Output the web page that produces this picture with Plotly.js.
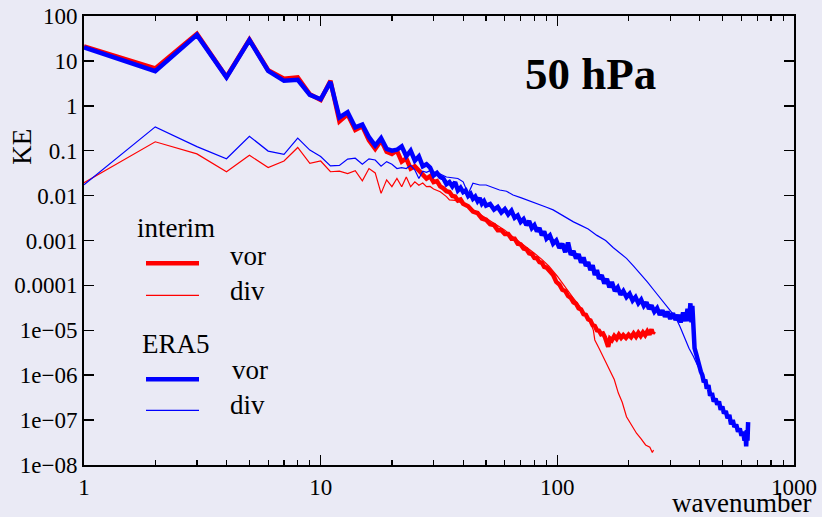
<!DOCTYPE html>
<html>
<head>
<meta charset="utf-8">
<script src="https://cdn.plot.ly/plotly-3.0.1.min.js"></script>
<style>html,body{margin:0;padding:0;background:#eaeaf5;}#chart{width:822px;height:517px;}</style>
</head>
<body>
<div id="chart"></div>
<script>
// ---------- data ----------
const wnInterimVor = [1,2,3,4,5,6,7,8,9,10,11,12,13,14,15,16,17,18,19,20,21,22,23,24,25,26,27,28,29,30,31,32,33,34,35,36,37,38,39,40,
  42,44,46,48,50,52,54,56,58,60,62,64,66,68,70,72,74,76,78,80,82,84,86,88,90,93,96,99,102,105,108,111,114,117,120,123,126,129,132,135,138,141,144,147,150,153,156,159,162,164,167,170,174,178,182,186,190,195,200,205,210,215,220,225,230,235,240,245,250,253,256];
const keInterimVor = [21,6.8,40,4.4,30,6.2,4.0,4.3,1.8,1.35,3.6,0.45,0.65,0.29,0.35,0.17,0.11,0.17,0.095,0.085,0.1,0.057,0.067,0.04,0.045,0.037,0.03,0.024,0.027,0.02,0.021,0.016,0.0145,0.0125,0.012,0.0098,0.0095,0.0078,0.0082,0.0066,
  0.0058,0.0044,0.0041,0.0031,0.0029,0.0023,0.0022,0.0017,0.0017,0.0014,0.0014,0.0011,0.0011,0.00085,0.00082,0.00066,0.00064,0.00052,0.0005,0.00041,0.0004,0.00033,0.00032,0.00026,0.00025,0.0002,0.00017,0.00012,0.000105,8e-5,7.5e-5,5.8e-5,5.3e-5,4.2e-5,3.9e-5,3.1e-5,2.9e-5,2.3e-5,2.2e-5,1.75e-5,1.65e-5,1.3e-5,1.25e-5,1.0e-5,9.8e-6,8.2e-6,8.5e-6,7e-6,5e-6,4.3e-6,6.5e-6,6e-6,7.5e-6,6.5e-6,8e-6,6.8e-6,7.8e-6,6.8e-6,8e-6,7e-6,8.5e-6,7.2e-6,8.8e-6,7.5e-6,9e-6,7.8e-6,9.5e-6,8e-6,1.05e-5,8.5e-6,9.5e-6];

const wnInterimDiv = [1,2,3,4,5,6,7,8,9,10,11,12,13,14,15,16,17,18,19,20,21,22,23,24,25,26,27,28,29,30,32,34,35,37,39,42,45,48,52,56,60,65,70,75,80,86,92,100,108,116,124,132,138,142,144,150,156,162,167,174,181,188,196,205,216,226,236,246,252,255];
const keInterimDiv = [0.0194,0.158,0.085,0.034,0.079,0.042,0.059,0.118,0.052,0.059,0.034,0.035,0.031,0.036,0.0214,0.04,0.032,0.0112,0.0224,0.0158,0.024,0.0158,0.026,0.0158,0.0203,0.017,0.019,0.0158,0.016,0.014,0.0122,0.0095,0.008,0.0078,0.007,0.0058,0.0045,0.0036,0.0028,0.0021,0.0017,0.0012,0.0009,0.0007,0.00052,0.00038,0.00027,0.00016,9e-5,5.5e-5,3.5e-5,2.2e-5,1.5e-5,1.0e-5,6.1e-6,4e-6,2.6e-6,1.8e-6,1.3e-6,8e-7,4e-7,2.5e-7,1.19e-7,8e-8,5.1e-8,3.8e-8,2.8e-8,2.5e-8,1.9e-8,2.15e-8];

const wnEra5Vor = [1,2,3,4,5,6,7,8,9,10,11,12,13,14,15,16,17,18,19,20,21,22,23,24,25,26,27,28,29,30,31,32,33,34,35,36,37,38,39,40,41,42,43,44,45,46,47,48,49,50,52,54,56,58,60,62,64,66,68,70,72,74,76,78,80,82,84,86,88,90,93,96,99,102,105,108,111,114,117,120,123,126,129,132,135,138,141,144,147,150,154,158,162,166,170,175,180,185,190,196,202,208,214,220,226,232,238,244,250,257,264,271,278,285,292,300,308,316,324,332,340,348,355,360,365,369,372,376,380,386,392,398,404,410,416,422,428,435,442,450,458,466,474,482,490,498,506,515,524,533,542,551,560,570,580,590,600,610,618,624,628,632,636,640];
const keEra5Vor = [20,5.9,38,4.3,29,6.0,3.6,3.8,1.75,1.4,3.4,0.55,0.72,0.33,0.38,0.2,0.13,0.19,0.11,0.1,0.105,0.125,0.075,0.1,0.06,0.075,0.045,0.05,0.042,0.028,0.032,0.026,0.024,0.018,0.02,0.016,0.02,0.013,0.015,0.012,0.013,0.0098,0.011,0.0085,0.0095,0.0075,0.0088,0.0066,0.0075,0.006,0.0065,0.0049,0.0056,0.0042,0.005,0.0038,0.0046,0.0032,0.0036,0.0026,0.003,0.0022,0.0027,0.0019,0.0022,0.0016,0.0019,0.0013,0.0016,0.0011,0.0013,0.00085,0.001,0.00068,0.00085,0.00055,0.0009,0.00048,0.00058,0.0004,0.0005,0.00032,0.00042,0.00027,0.00033,0.00022,0.00028,0.00017,0.00022,0.00014,0.00017,0.00011,0.00014,9e-5,0.00012,7.5e-5,9e-5,6.2e-5,7.5e-5,5.5e-5,6.5e-5,4.6e-5,5.5e-5,4e-5,4.8e-5,3.5e-5,4.2e-5,3e-5,3.6e-5,2.6e-5,3.1e-5,2.2e-5,2.8e-5,2e-5,2.6e-5,1.8e-5,2.4e-5,1.7e-5,2.2e-5,1.5e-5,2.5e-5,1.6e-5,3e-5,1.6e-5,4e-5,1.5e-5,3.5e-5,6e-6,4e-6,3e-6,2e-6,1.7e-6,1.2e-6,1.0e-6,7e-7,8e-7,5e-7,6e-7,3.5e-7,4e-7,2.6e-7,3e-7,2.2e-7,2.6e-7,1.7e-7,2e-7,1.4e-7,1.6e-7,1.1e-7,1.3e-7,8e-8,1e-7,7e-8,8e-8,5.5e-8,6.5e-8,4.5e-8,5.5e-8,3.5e-8,5e-8,2.6e-8,6e-8,3.5e-8,9e-8,4e-8];

const wnEra5Div = [1,2,3,4,5,6,7,8,9,10,11,12,13,14,15,16,17,18,19,20,21,22,23,24,25,26,27,28,29,30,32,34,36,38,40,42,44,47,50,54,57,61,65,70,74,79,84,90,96,103,110,117,125,135,147,160,172,184,196,210,223,240,255,270,285,300,315,330,345,360,376,390,420,450,490,530,570,610,640];
const keEra5Div = [0.0174,0.34,0.123,0.066,0.21,0.098,0.083,0.19,0.103,0.074,0.046,0.047,0.065,0.068,0.05,0.066,0.062,0.045,0.057,0.05,0.04,0.042,0.04,0.047,0.037,0.024,0.035,0.033,0.036,0.034,0.03,0.026,0.025,0.024,0.0203,0.011,0.0188,0.0172,0.0172,0.015,0.0133,0.0125,0.0103,0.009,0.008,0.007,0.0062,0.0055,0.0048,0.0038,0.0031,0.0026,0.0022,0.0018,0.0013,0.001,0.0007,0.00052,0.0004,0.00027,0.00019,0.00012,8e-5,5.5e-5,4e-5,2.8e-5,2e-5,1.2e-5,7e-6,4e-6,2.6e-6,1.7e-6,8e-7,3.8e-7,1.9e-7,1.1e-7,7e-8,4.5e-8,3.5e-8];

const yTickVals = [1e-8,1e-7,1e-6,1e-5,1e-4,1e-3,1e-2,1e-1,1,10,100];
const yTickText = ['1e\u221208','1e\u221207','1e\u221206','1e\u221205','0.0001','0.001','0.01','0.1','1','10','100'];
const xTickVals = [1,10,100,1000];
const xTickText = ['1','10','100','1000'];
const xMinorVals = [2,3,4,5,6,7,8,9,20,30,40,50,60,70,80,90,200,300,400,500,600,700,800,900];

// ---------- plot ----------
const RED = '#ff0000', BLUE = '#0000ff';
const FONT = 'Liberation Serif, Times New Roman, serif';
const traces = [
  {x: wnInterimVor, y: keInterimVor, mode:'lines', line:{color:RED, width:4.5}, showlegend:false},
  {x: wnInterimDiv, y: keInterimDiv, mode:'lines', line:{color:RED, width:1.2}, showlegend:false},
  {x: wnEra5Vor, y: keEra5Vor, mode:'lines', line:{color:BLUE, width:4.5}, showlegend:false},
  {x: wnEra5Div, y: keEra5Div, mode:'lines', line:{color:BLUE, width:1.2}, showlegend:false}
];

const px = v => (v - 84) / 710;     // pixel -> paper x
const py = v => (465 - v) / 449;    // pixel -> paper y

const legendLines = [
  {y: 263.3, color: RED, w: 4.5},
  {y: 295.3, color: RED, w: 1.2},
  {y: 379.3, color: BLUE, w: 4.5},
  {y: 410.3, color: BLUE, w: 1.2}
].map(d => ({type:'line', xref:'paper', yref:'paper', x0:px(146), x1:px(199), y0:py(d.y), y1:py(d.y), line:{color:d.color, width:d.w}}));

const legendText = [
  {t:'interim', x:136, y:227.7},
  {t:'vor', x:229, y:256},
  {t:'div', x:229, y:291},
  {t:'ERA5', x:141, y:344.3},
  {t:'vor', x:231, y:370.3},
  {t:'div', x:229, y:405}
].map(d => ({text:d.t, xref:'paper', yref:'paper', x:px(d.x), y:py(d.y), xanchor:'left', yanchor:'middle', showarrow:false, borderpad:0, font:{family:FONT, size:27, color:'#000'}}));

const layout = {
  width: 822, height: 517,
  margin: {l:84, r:28, t:16, b:52, pad:0},
  paper_bgcolor: '#eaeaf5', plot_bgcolor: '#eaeaf5',
  showlegend: false,
  font: {family: FONT, size: 23, color: '#000'},
  xaxis: {
    type:'log', range:[0,3], tickmode:'array', tickvals:xTickVals, ticktext:xTickText,
    ticks:'inside', ticklen:10, tickwidth:1.5, tickcolor:'#000',
    minor:{tickmode:'array', tickvals:xMinorVals, ticks:'inside', ticklen:5, tickwidth:1.2, tickcolor:'#000', showgrid:false},
    showline:true, linecolor:'#000', linewidth:2, mirror:'ticks',
    showgrid:false, zeroline:false, tickfont:{family:FONT, size:23, color:'#000'}
  },
  yaxis: {
    type:'log', range:[-8,2], tickmode:'array', tickvals:yTickVals, ticktext:yTickText,
    ticks:'inside', ticklen:10, tickwidth:1.5, tickcolor:'#000',
    showline:true, linecolor:'#000', linewidth:2, mirror:'ticks',
    showgrid:false, zeroline:false, tickfont:{family:FONT, size:23, color:'#000'}
  },
  shapes: legendLines,
  annotations: legendText.concat([
    {text:'KE', xref:'paper', yref:'paper', x:px(22), y:py(146.7), textangle:-90, showarrow:false, xanchor:'center', yanchor:'middle', font:{family:FONT, size:27, color:'#000'}},
    {text:'wavenumber', xref:'paper', yref:'paper', x:px(741.5), y:py(503), showarrow:false, xanchor:'center', yanchor:'middle', borderpad:0, font:{family:FONT, size:27, color:'#000'}},
    {text:'<b>50 hPa</b>', xref:'paper', yref:'paper', x:px(590), y:py(74), showarrow:false, xanchor:'center', yanchor:'middle', font:{family:FONT, size:45, color:'#000'}}
  ])
};

Plotly.newPlot('chart', traces, layout, {displayModeBar:false, staticPlot:true});
</script>
</body>
</html>
